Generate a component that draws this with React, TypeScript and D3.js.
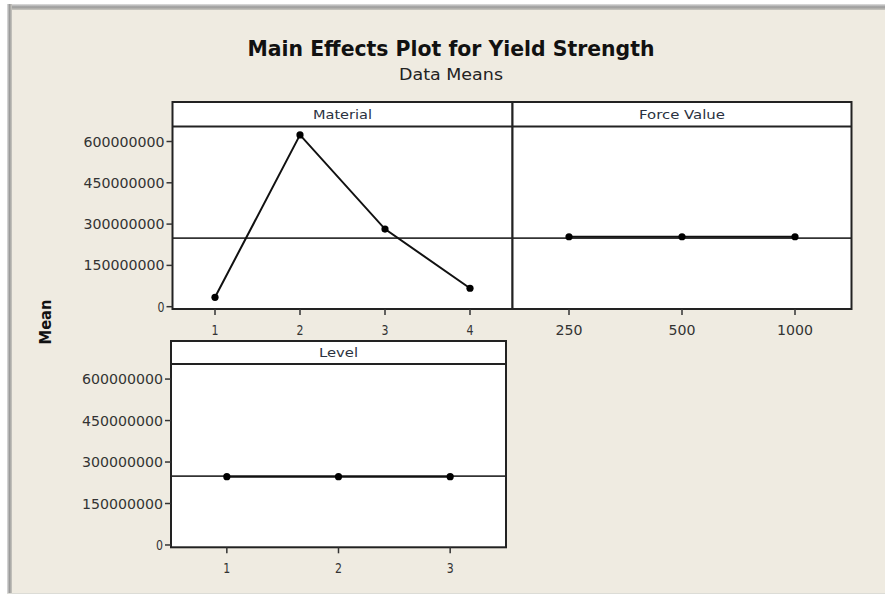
import React from "react";
import * as d3 from "d3";

const materialLevels = ["1", "2", "3", "4"];
const materialMeans = [34e6, 624e6, 282e6, 67e6];
const forceLevels = ["250", "500", "1000"];
const forceMeans = [254e6, 254e6, 254e6];
const levelLevels = ["1", "2", "3"];
const levelMeans = [247e6, 247e6, 247e6];
const grandMean = 249e6;
const yTicks = [0, 150e6, 300e6, 450e6, 600e6];
const yTickLabels = ["0", "150000000", "300000000", "450000000", "600000000"];
const yDomain: [number, number] = [-8.4e6, 654.5e6];

const W = 885;
const H = 596;
const FONT = "'DejaVu Sans', Verdana, sans-serif";

type PanelProps = {
  title: string;
  titleWidth: number;
  levels: string[];
  means: number[];
  x0: number;
  x1: number;
  top: number;
  stripBottom: number;
  bottom: number;
  showY: boolean;
};

function Panel({ title, titleWidth, levels, means, x0, x1, top, stripBottom, bottom, showY }: PanelProps) {
  const x = d3.scalePoint<string>().domain(levels).range([x0, x1]).padding(0.5);
  const y = d3.scaleLinear().domain(yDomain).range([bottom, stripBottom]);
  const line = d3
    .line<number>()
    .x((_, i) => x(levels[i]) as number)
    .y((d) => y(d));
  const labelWidth = (s: string) => (s.length === 1 ? 7 : s.length * 9);
  return (
    <g>
      <rect x={x0} y={top} width={x1 - x0} height={bottom - top} fill="#fff" />
      <line x1={x0} x2={x1} y1={y(grandMean)} y2={y(grandMean)} stroke="#333" strokeWidth={1.6} />
      <path d={line(means) || ""} fill="none" stroke="#111" strokeWidth={2} />
      {means.map((m, i) => (
        <circle key={i} cx={x(levels[i])} cy={y(m)} r={3.6} fill="#000" />
      ))}
      <line x1={x0} x2={x1} y1={stripBottom} y2={stripBottom} stroke="#222" strokeWidth={1.8} />
      <text
        x={(x0 + x1) / 2}
        y={(top + stripBottom) / 2 + 4.5}
        textAnchor="middle"
        fontFamily={FONT}
        fontSize={13}
        fill="#2a3140"
        textLength={titleWidth}
        lengthAdjust="spacingAndGlyphs"
      >
        {title}
      </text>
      <rect x={x0} y={top} width={x1 - x0} height={bottom - top} fill="none" stroke="#222" strokeWidth={2} />
      {levels.map((l) => (
        <g key={l}>
          <line x1={x(l)} x2={x(l)} y1={bottom} y2={bottom + 6} stroke="#333" strokeWidth={1.5} />
          <text
            x={x(l)}
            y={bottom + 26}
            textAnchor="middle"
            fontFamily={FONT}
            fontSize={14}
            fill="#333"
            textLength={labelWidth(l)}
            lengthAdjust="spacingAndGlyphs"
          >
            {l}
          </text>
        </g>
      ))}
      {showY &&
        yTicks.map((t, i) => (
          <g key={t}>
            <line x1={x0 - 6} x2={x0} y1={y(t)} y2={y(t)} stroke="#333" strokeWidth={1.5} />
            <text
              x={x0 - 8}
              y={y(t) + 5}
              textAnchor="end"
              fontFamily={FONT}
              fontSize={14}
              fill="#333"
              textLength={yTickLabels[i].length === 1 ? 7 : 81}
              lengthAdjust="spacingAndGlyphs"
            >
              {yTickLabels[i]}
            </text>
          </g>
        ))}
    </g>
  );
}

export default function App() {
  return (
    <svg width={W} height={H} style={{ position: "absolute", left: 0, top: 0, display: "block" }}>
      <defs>
        <linearGradient id="topband" x1="0" y1="0" x2="0" y2="1">
          <stop offset="0" stopColor="#e0e0e0" />
          <stop offset="0.5" stopColor="#9a9a9a" />
          <stop offset="1" stopColor="#c9c7c0" />
        </linearGradient>
        <linearGradient id="leftband" x1="0" y1="0" x2="1" y2="0">
          <stop offset="0" stopColor="#e0e0e0" />
          <stop offset="0.5" stopColor="#9a9a9a" />
          <stop offset="1" stopColor="#c9c7c0" />
        </linearGradient>
      </defs>
      <rect x={0} y={0} width={W} height={H} fill="#fff" />
      <rect x={7} y={4} width={W - 7} height={589} fill="#efebe1" />
      <rect x={7} y={4} width={W - 7} height={6} fill="url(#topband)" />
      <rect x={7} y={4} width={5} height={589} fill="url(#leftband)" />
      <line x1={7} x2={W} y1={593.5} y2={593.5} stroke="#dcdcd6" strokeWidth={1} />

      <text
        x={451}
        y={56}
        textAnchor="middle"
        fontFamily={FONT}
        fontWeight="bold"
        fontSize={22}
        fill="#111"
        textLength={407}
        lengthAdjust="spacingAndGlyphs"
      >
        Main Effects Plot for Yield Strength
      </text>
      <text
        x={451}
        y={80}
        textAnchor="middle"
        fontFamily={FONT}
        fontSize={15}
        fill="#222"
        textLength={104}
        lengthAdjust="spacingAndGlyphs"
      >
        Data Means
      </text>
      <text
        transform="translate(51,322) rotate(-90)"
        textAnchor="middle"
        fontFamily={FONT}
        fontWeight="bold"
        fontSize={15}
        fill="#111"
        textLength={45}
        lengthAdjust="spacingAndGlyphs"
      >
        Mean
      </text>

      <Panel
        title="Material"
        titleWidth={59}
        levels={materialLevels}
        means={materialMeans}
        x0={172.5}
        x1={512.5}
        top={102}
        stripBottom={126.5}
        bottom={309}
        showY={true}
      />
      <Panel
        title="Force Value"
        titleWidth={86}
        levels={forceLevels}
        means={forceMeans}
        x0={512.5}
        x1={851.5}
        top={102}
        stripBottom={126.5}
        bottom={309}
        showY={false}
      />
      <Panel
        title="Level"
        titleWidth={39}
        levels={levelLevels}
        means={levelMeans}
        x0={171}
        x1={506}
        top={341}
        stripBottom={364}
        bottom={547.3}
        showY={true}
      />
    </svg>
  );
}
